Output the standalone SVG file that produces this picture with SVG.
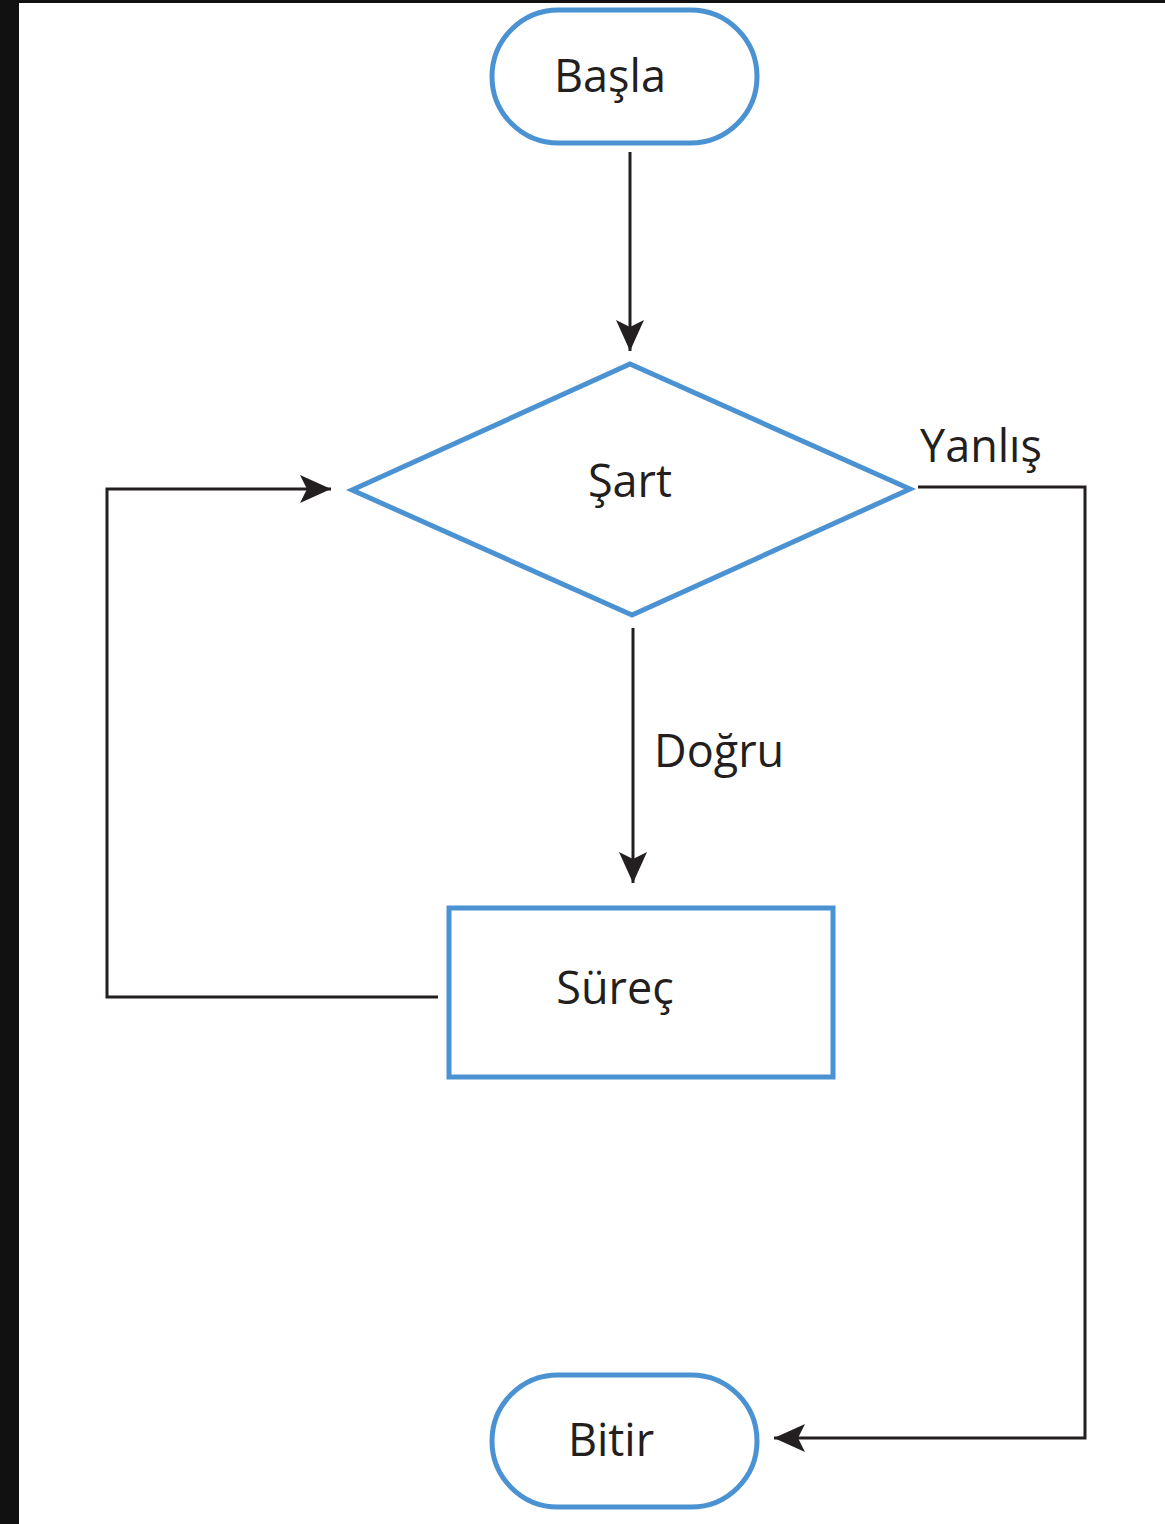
<svg xmlns="http://www.w3.org/2000/svg" width="1165" height="1524" viewBox="0 0 1165 1524">
<style>
.shape{fill:#ffffff;stroke:#4b92d2;stroke-width:5}
.lbl{font-family:"Open Sans","Noto Sans",sans-serif;font-size:45px;fill:#231f20}
.conn{fill:none;stroke:#231f20;stroke-width:3}
</style>
<defs>
<marker id="ah" markerUnits="userSpaceOnUse" markerWidth="34" markerHeight="30" refX="31" refY="14" orient="auto">
<path d="M0,0 L31,14 L0,28 L7,14 Z" fill="#231f20"/>
</marker>
</defs>
<rect x="0" y="0" width="1165" height="1524" fill="#111111"/>
<rect x="19" y="3" width="1146" height="1521" fill="#ffffff"/>
<g id="connectors">
<line class="conn" x1="630" y1="152" x2="630" y2="351" marker-end="url(#ah)"/>
<line class="conn" x1="633" y1="628" x2="633" y2="883" marker-end="url(#ah)"/>
<polyline class="conn" points="438,997 107,997 107,489 331,489" marker-end="url(#ah)"/>
<polyline class="conn" points="918,487 1085,487 1085,1438 774,1438" marker-end="url(#ah)"/>
<text class="lbl" x="920" y="462">Yanlış</text>
<text class="lbl" x="654" y="767">Doğru</text>
</g>
<g id="basla">
<rect class="shape" x="492" y="10" width="265" height="133" rx="66.5"/>
<text class="lbl" x="610" y="92" text-anchor="middle">Başla</text>
</g>
<g id="sart">
<polygon class="shape" points="352,490 630,364 910,489 632,615"/>
<text class="lbl" x="630" y="497" text-anchor="middle">Şart</text>
</g>
<g id="surec">
<rect class="shape" x="449" y="908" width="384" height="169"/>
<text class="lbl" x="615" y="1004" text-anchor="middle">Süreç</text>
</g>
<g id="bitir">
<rect class="shape" x="492" y="1375" width="265" height="132" rx="66"/>
<text class="lbl" x="611" y="1456" text-anchor="middle">Bitir</text>
</g>
</svg>
